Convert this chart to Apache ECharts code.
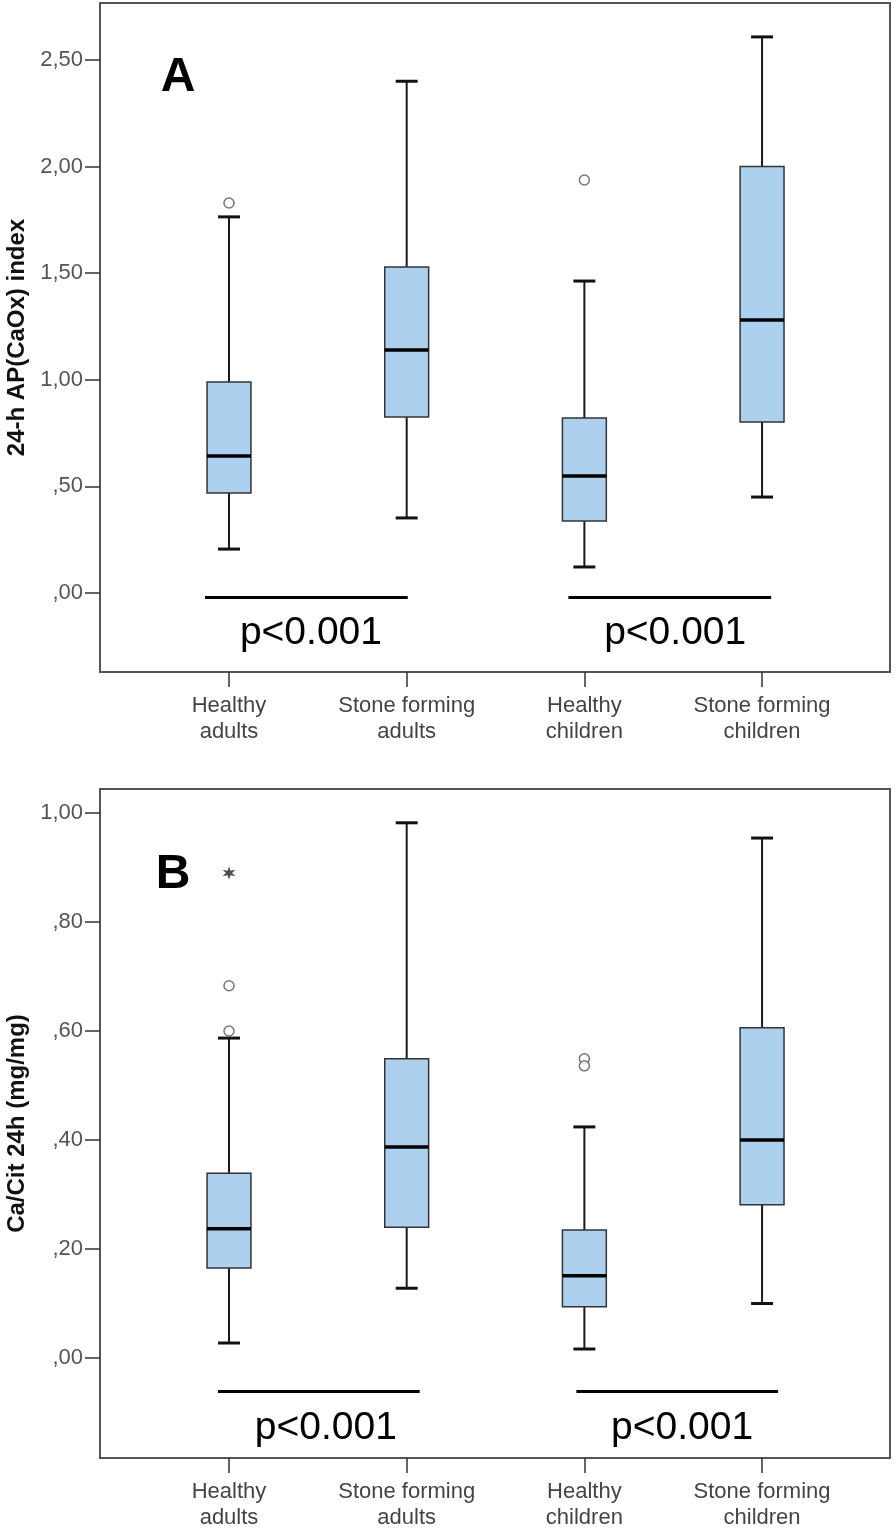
<!DOCTYPE html>
<html><head><meta charset="utf-8">
<script src="https://cdn.jsdelivr.net/npm/echarts@6/dist/echarts.min.js"></script>
<style>html,body{margin:0;padding:0;background:#fff}#c{width:896px;height:1530px}</style>
</head><body><div id="c"></div>
<script>
// ---------- data ----------
const categories = ['Healthy\nadults', 'Stone forming\nadults', 'Healthy\nchildren', 'Stone forming\nchildren'];
const yTicksA = [0, 0.5, 1, 1.5, 2, 2.5];
const yTicksB = [0, 0.2, 0.4, 0.6, 0.8, 1.0];
const catTicks = [0, 1, 2, 3];
// [min, Q1, median, Q3, max]
const boxA = [
  [0.206, 0.469, 0.643, 0.990, 1.764],
  [0.352, 0.825, 1.140, 1.529, 2.400],
  [0.122, 0.338, 0.549, 0.821, 1.463],
  [0.450, 0.802, 1.280, 2.000, 2.608]
];
const outliersA = [[0, 1.829], [2, 1.937]];
const boxB = [
  [0.0275, 0.165, 0.237, 0.339, 0.587],
  [0.128, 0.240, 0.387, 0.549, 0.982],
  [0.0165, 0.094, 0.151, 0.235, 0.424],
  [0.100, 0.281, 0.400, 0.606, 0.954]
];
const outliersB = [[0, 0.683], [0, 0.600], [2, 0.549], [2, 0.536]];
const extremesB = [[0, 0.890]];
const pLabel = 'p<0.001';
const yNameA = '24-h AP(CaOx) index';
const yNameB = 'Ca/Cit 24h (mg/mg)';

// ---------- annotation placement (data units) ----------
const annotA = { lineY: -0.019, spans: [[-0.135, 1.006], [1.91, 3.051]], textY: -0.188, textX: [0.461, 2.511] };
const annotB = { lineY: -0.0606, spans: [[-0.062, 1.073], [1.955, 3.09]], textY: -0.128, textX: [0.545, 2.55] };

// ---------- styles ----------
const FONT = "'Liberation Sans', Arial, sans-serif";
const BOX_FRAC = 0.247;   // box width as fraction of one category unit
const FRAME = '#555';

function fmtTick(v) {
  let s = v.toFixed(2).replace('.', ',');
  if (s.charAt(0) === '0') s = s.slice(1);
  return s;
}
function starPath() {
  const pts = [];
  for (let k = 0; k < 12; k++) {
    const a = (-90 + k * 30) * Math.PI / 180;
    const r = k % 2 === 0 ? 10 : 4;
    pts.push((r * Math.cos(a)).toFixed(2) + ',' + (r * Math.sin(a)).toFixed(2));
  }
  return 'path://M' + pts.join(' L') + ' Z';
}

function boxRender(params, api) {
  const x = api.value(0);
  const lo = api.coord([x, api.value(1)]);
  const q1 = api.coord([x, api.value(2)]);
  const md = api.coord([x, api.value(3)]);
  const q3 = api.coord([x, api.value(4)]);
  const hi = api.coord([x, api.value(5)]);
  const unit = api.size([1, 0])[0];
  const hw = unit * BOX_FRAC / 2;
  const cw = hw / 2;
  const cx = md[0];
  const wStyle = { stroke: '#1a1a1a', lineWidth: 2 };
  return {
    type: 'group',
    children: [
      { type: 'line', shape: { x1: cx, y1: q3[1], x2: cx, y2: hi[1] }, style: wStyle },
      { type: 'line', shape: { x1: cx, y1: q1[1], x2: cx, y2: lo[1] }, style: wStyle },
      { type: 'line', shape: { x1: cx - cw, y1: hi[1], x2: cx + cw, y2: hi[1] }, style: { stroke: '#111', lineWidth: 3 } },
      { type: 'line', shape: { x1: cx - cw, y1: lo[1], x2: cx + cw, y2: lo[1] }, style: { stroke: '#111', lineWidth: 3 } },
      { type: 'rect', shape: { x: cx - hw, y: q3[1], width: 2 * hw, height: q1[1] - q3[1] }, style: { fill: '#aed0ef', stroke: '#333', lineWidth: 1.5 } },
      { type: 'line', shape: { x1: cx - hw, y1: md[1], x2: cx + hw, y2: md[1] }, style: { stroke: '#000', lineWidth: 3.5 } }
    ]
  };
}

function xAxisFor(gi) {
  return {
    gridIndex: gi, type: 'value', min: -0.726, max: 3.72,
    splitLine: { show: false },
    axisLine: { show: true, onZero: false, lineStyle: { color: FRAME, width: 2 } },
    axisTick: { show: true, customValues: catTicks, length: 15, lineStyle: { color: '#333', width: 1.5 } },
    axisLabel: { show: true, customValues: catTicks, formatter: v => categories[Math.round(v)],
      margin: 21, fontSize: 22, lineHeight: 26, color: '#444', fontFamily: FONT }
  };
}
function yAxisFor(gi, min, max, ticks, name) {
  return {
    gridIndex: gi, type: 'value', min: min, max: max,
    splitLine: { show: false },
    axisLine: { show: true, onZero: false, lineStyle: { color: FRAME, width: 2 } },
    axisTick: { show: true, customValues: ticks, length: 15, lineStyle: { color: '#333', width: 1.5 } },
    axisLabel: { show: true, customValues: ticks, formatter: fmtTick, margin: 17, fontSize: 22, color: '#555', fontFamily: FONT },
    name: name, nameLocation: 'middle', nameGap: 69,
    nameTextStyle: { fontWeight: 'bold', fontSize: 24, color: '#111', fontFamily: FONT }
  };
}
function annotSeries(gi, pts, annot) {
  return {
    type: 'scatter', xAxisIndex: gi, yAxisIndex: gi,
    data: pts, symbol: 'circle', symbolSize: 10,
    itemStyle: { color: '#fff', borderColor: '#555', borderWidth: 1.5 },
    silent: true, z: 5,
    markLine: {
      symbol: 'none', silent: true, label: { show: false },
      lineStyle: { color: '#000', width: 3, type: 'solid' },
      data: annot.spans.map(s => [{ coord: [s[0], annot.lineY] }, { coord: [s[1], annot.lineY] }])
    },
    markPoint: {
      symbol: 'circle', symbolSize: 0, silent: true,
      label: { show: true, position: 'inside', formatter: pLabel, fontSize: 39, color: '#000', fontFamily: FONT },
      data: annot.textX.map(x => ({ coord: [x, annot.textY] }))
    }
  };
}

const chart = echarts.init(document.getElementById('c'), null, { renderer: 'canvas' });
chart.setOption({
  animation: false,
  backgroundColor: '#fff',
  textStyle: { fontFamily: FONT },
  grid: [
    { left: 100, right: 6, top: 3, height: 669, show: true, borderColor: FRAME, borderWidth: 2, backgroundColor: 'transparent', containLabel: false, outerBoundsMode: 'none' },
    { left: 100, right: 6, top: 789, height: 669, show: true, borderColor: FRAME, borderWidth: 2, backgroundColor: 'transparent', containLabel: false, outerBoundsMode: 'none' }
  ],
  xAxis: [xAxisFor(0), xAxisFor(1)],
  yAxis: [
    yAxisFor(0, -0.3705, 2.767, yTicksA, yNameA),
    yAxisFor(1, -0.1835, 1.044, yTicksB, yNameB)
  ],
  graphic: [
    { type: 'text', x: 178, y: 78, style: { text: 'A', fontSize: 48, fontWeight: 'bold', fill: '#000', align: 'center', verticalAlign: 'middle', fontFamily: FONT } },
    { type: 'text', x: 173, y: 875, style: { text: 'B', fontSize: 48, fontWeight: 'bold', fill: '#000', align: 'center', verticalAlign: 'middle', fontFamily: FONT } }
  ],
  series: [
    { type: 'custom', xAxisIndex: 0, yAxisIndex: 0, renderItem: boxRender, encode: { x: 0, y: [1, 2, 3, 4, 5] },
      data: boxA.map((b, i) => [i].concat(b)), silent: true, z: 3 },
    { type: 'custom', xAxisIndex: 1, yAxisIndex: 1, renderItem: boxRender, encode: { x: 0, y: [1, 2, 3, 4, 5] },
      data: boxB.map((b, i) => [i].concat(b)), silent: true, z: 3 },
    annotSeries(0, outliersA, annotA),
    annotSeries(1, outliersB, annotB),
    { type: 'scatter', xAxisIndex: 1, yAxisIndex: 1, data: extremesB, symbol: starPath(), symbolSize: 13,
      itemStyle: { color: '#222' }, silent: true, z: 5 }
  ]
});
</script>
</body></html>
